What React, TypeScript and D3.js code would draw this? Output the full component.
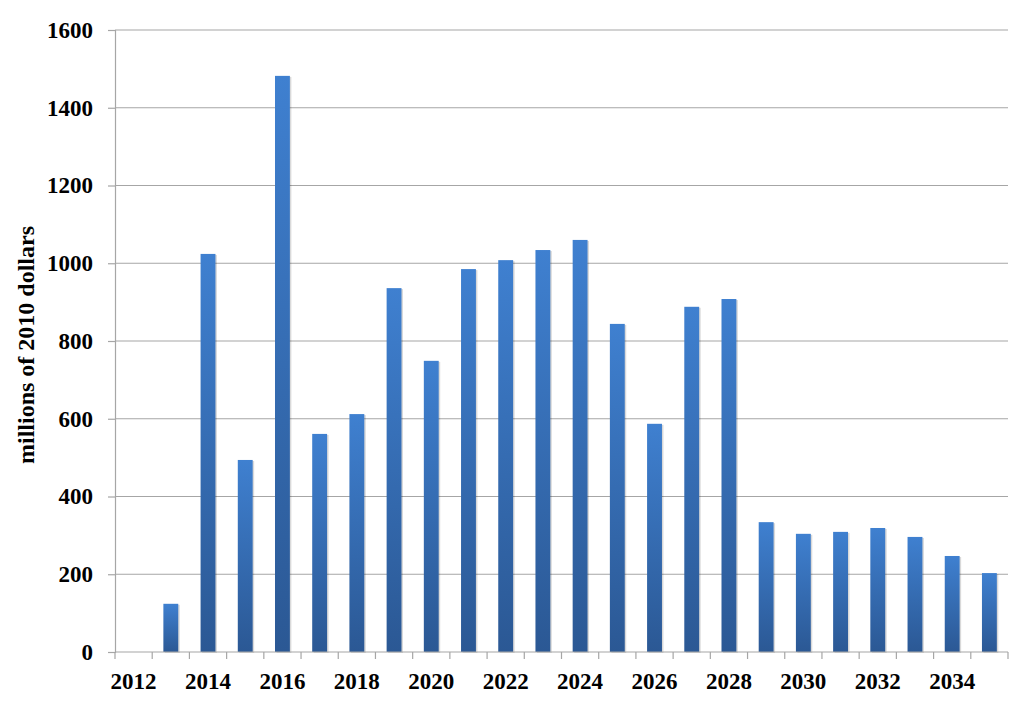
import React, { useEffect, useRef } from "react";
import * as d3 from "d3";

const years = [
  "2012", "2013", "2014", "2015", "2016", "2017", "2018", "2019", "2020", "2021", "2022", "2023",
  "2024", "2025", "2026", "2027", "2028", "2029", "2030", "2031", "2032", "2033", "2034", "2035",
];
const values = [
  0, 124, 1024, 494, 1482, 561, 612, 936, 749, 985, 1008, 1034,
  1060, 844, 587, 888, 908, 334, 304, 309, 319, 296, 247, 203,
];
const yTicks = [0, 200, 400, 600, 800, 1000, 1200, 1400, 1600];

const W = 1024;
const H = 705;
const margin = { top: 30, right: 16, bottom: 53, left: 115 };
const font = "'Liberation Serif', 'Times New Roman', serif";

const App = () => {
  const svgRef = useRef<SVGSVGElement>(null);

  useEffect(() => {
    const svg = d3.select(svgRef.current);
    svg.selectAll("*").remove();

    const iw = W - margin.left - margin.right;
    const ih = H - margin.top - margin.bottom;

    const x = d3.scaleBand().domain(years).range([0, iw]).paddingInner(0.6).paddingOuter(0.3);
    const y = d3.scaleLinear().domain([0, 1600]).range([ih, 0]);

    // gradient for bars
    const defs = svg.append("defs");
    const grad = defs.append("linearGradient")
      .attr("id", "barGrad")
      .attr("x1", 0).attr("y1", 0).attr("x2", 0).attr("y2", 1);
    grad.append("stop").attr("offset", "0%").attr("stop-color", "#3f80d0");
    grad.append("stop").attr("offset", "100%").attr("stop-color", "#2b5894");

    const g = svg.append("g").attr("transform", `translate(${margin.left},${margin.top})`);

    // gridlines
    g.selectAll("line.grid")
      .data(yTicks.filter((d) => d > 0))
      .enter().append("line")
      .attr("class", "grid")
      .attr("x1", 0).attr("x2", iw)
      .attr("y1", (d) => y(d)).attr("y2", (d) => y(d))
      .attr("stroke", "#a6a6a6")
      .attr("stroke-width", 1.2);

    // bars (shadow + bar)
    g.selectAll("rect.shadow")
      .data(values)
      .enter().append("rect")
      .attr("class", "shadow")
      .attr("x", (d, i) => x(years[i])! + 1.5)
      .attr("y", (d) => y(d) + 1)
      .attr("width", x.bandwidth())
      .attr("height", (d) => ih - y(d))
      .attr("fill", "#000")
      .attr("opacity", (d) => (d > 0 ? 0.15 : 0));

    g.selectAll("rect.bar")
      .data(values)
      .enter().append("rect")
      .attr("class", "bar")
      .attr("x", (d, i) => x(years[i])!)
      .attr("y", (d) => y(d))
      .attr("width", x.bandwidth())
      .attr("height", (d) => ih - y(d))
      .attr("fill", "url(#barGrad)");

    // y axis
    const yAxis = g.append("g")
      .call(d3.axisLeft(y).tickValues(yTicks).tickSize(7).tickPadding(15).tickFormat(d3.format("d")));
    yAxis.select(".domain").attr("stroke", "#a6a6a6").attr("stroke-width", 1.2);
    yAxis.selectAll(".tick line").attr("stroke", "#a6a6a6").attr("stroke-width", 1.2);
    yAxis.selectAll(".tick text")
      .attr("fill", "#000")
      .style("font-family", font)
      .style("font-weight", "bold")
      .style("font-size", "23px");

    // x axis
    const xg = g.append("g").attr("transform", `translate(0,${ih})`);
    xg.append("line")
      .attr("x1", 0).attr("x2", iw)
      .attr("stroke", "#a6a6a6").attr("stroke-width", 1.2);
    const step = x.step();
    xg.selectAll("line.tick")
      .data(d3.range(years.length + 1))
      .enter().append("line")
      .attr("class", "tick")
      .attr("x1", (i) => i * step).attr("x2", (i) => i * step)
      .attr("y1", 0).attr("y2", 7)
      .attr("stroke", "#a6a6a6").attr("stroke-width", 1.2);
    xg.selectAll("text")
      .data(years.filter((d, i) => i % 2 === 0))
      .enter().append("text")
      .attr("x", (d) => x(d)! + x.bandwidth() / 2)
      .attr("y", 37)
      .attr("text-anchor", "middle")
      .style("font-family", font)
      .style("font-weight", "bold")
      .style("font-size", "23px")
      .text((d) => d);

    // y title
    svg.append("text")
      .attr("transform", `translate(34,345) rotate(-90)`)
      .attr("text-anchor", "middle")
      .style("font-family", font)
      .style("font-weight", "bold")
      .style("font-size", "24px")
      .text("millions of 2010 dollars");
  }, []);

  return (
    <svg
      ref={svgRef}
      width={W}
      height={H}
      style={{ position: "absolute", left: 0, top: 0, background: "#fff" }}
    />
  );
};

export default App;
